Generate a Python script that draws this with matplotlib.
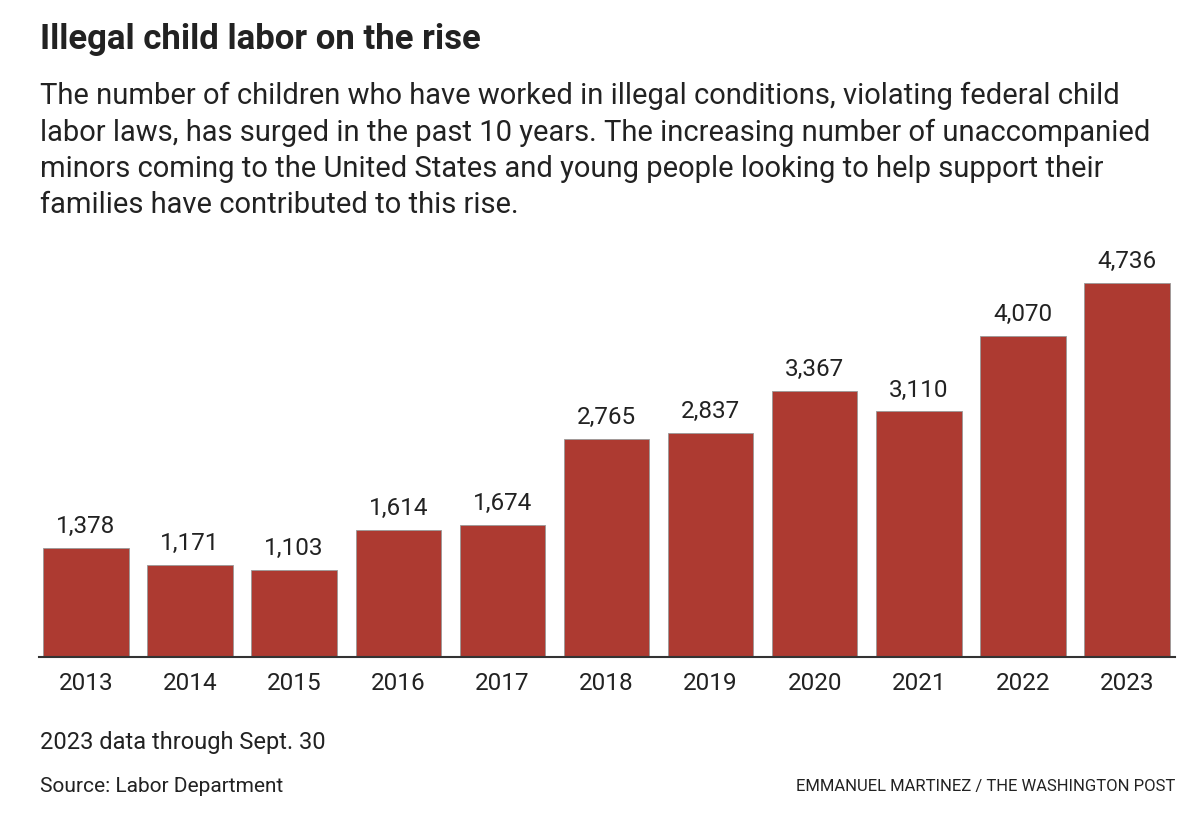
import matplotlib.pyplot as plt

years = ["2013", "2014", "2015", "2016", "2017", "2018", "2019", "2020", "2021", "2022", "2023"]
cases = [1378, 1171, 1103, 1614, 1674, 2765, 2837, 3367, 3110, 4070, 4736]

title = "Illegal child labor on the rise"
subtitle = ("The number of children who have worked in illegal conditions, violating federal child\n"
            "labor laws, has surged in the past 10 years. The increasing number of unaccompanied\n"
            "minors coming to the United States and young people looking to help support their\n"
            "families have contributed to this rise.")
note = "2023 data through Sept. 30"
source = "Source: Labor Department"
credit = "EMMANUEL MARTINEZ / THE WASHINGTON POST"

bar_color = "#ad3a31"
text_color = "#222222"

plt.rcParams['font.family'] = ['Roboto', 'DejaVu Sans']

W, H = 1200, 838
fig = plt.figure(figsize=(W / 100, H / 100), dpi=100)

# axes placed in pixel terms
left, right, top, bottom = 39, 1175, 270, 657
ax = fig.add_axes([left / W, 1 - bottom / H, (right - left) / W, (bottom - top) / H])

x = range(len(years))
bars = ax.bar(x, cases, width=0.82, color=bar_color, edgecolor="#999999", linewidth=0.6)
ax.set_xlim(-0.45, 10.46)
ax.set_ylim(0, 4900)

for b, v in zip(bars, cases):
    ax.annotate(f"{v:,}", (b.get_x() + b.get_width() / 2, v), xytext=(0, 7),
                textcoords="offset points", ha="center", va="bottom",
                fontsize=17.5, color=text_color)

ax.set_xticks(list(x))
ax.set_xticklabels(years, fontsize=17.5, color=text_color)
ax.tick_params(axis="x", length=0, pad=11)
ax.set_yticks([])
for s in ["top", "right", "left"]:
    ax.spines[s].set_visible(False)
ax.spines["bottom"].set_color("#333333")
ax.spines["bottom"].set_linewidth(1.5)

fig.text(40 / W, 1 - 40 / H, title, fontsize=25, fontweight="bold", color=text_color, va="center")
fig.text(40 / W, 1 - 82 / H, subtitle, fontsize=21, color=text_color, va="top", linespacing=1.37)
fig.text(40 / W, 1 - 742 / H, note, fontsize=17, color=text_color, va="center")
fig.text(40 / W, 1 - 786 / H, source, fontsize=15, color=text_color, va="center")
fig.text(1175 / W, 1 - 786 / H, credit, fontsize=12, color=text_color, va="center", ha="right")

fig.savefig("out.png", dpi=100, facecolor="white")
